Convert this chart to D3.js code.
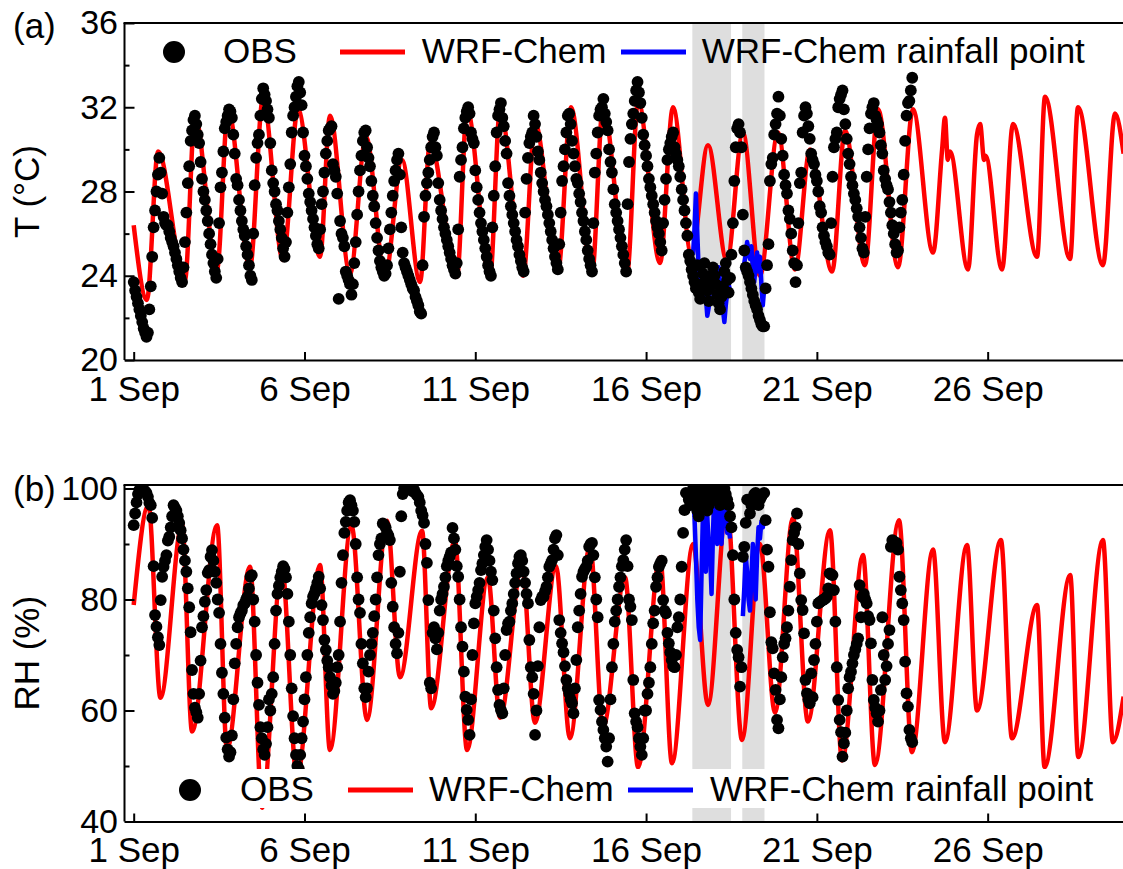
<!DOCTYPE html>
<html><head><meta charset="utf-8">
<script src="https://cdn.jsdelivr.net/npm/d3@7"></script>
<style>
body{margin:0;background:#fff;}
svg text{font-family:"Liberation Sans",Arial,sans-serif;fill:#000;}
</style></head><body>
<svg id="c" width="1123" height="869"></svg>
<script>
// ---------- data (hours since 1 Sep 00:00) ----------
const dayTicks = [1, 6, 11, 16, 21, 26];
const tTicks = [20, 24, 28, 32, 36];
const tMinor = [22, 26, 30, 34];
const rhTicks = [40, 60, 80, 100];
const rhMinor = [50, 70, 90];
const rainBands = [[392.5, 419.7], [427.6, 443.2]];
const legendLabels = ["OBS", "WRF-Chem", "WRF-Chem rainfall point"];

// hourly observed temperature, one row per day (1 Sep ... 23 Sep)
const obsT = [
[23.7,23.3,23.0,22.7,22.4,22.1,21.8,21.5,21.3,21.1,21.3,22.4,23.5,24.9,26.3,27.1,28.0,28.8,29.6,28.9,27.9,26.8,26.5,26.4],
[26.4,26.1,25.8,25.6,25.4,25.1,24.8,24.5,24.2,23.9,23.7,24.4,25.6,27.0,28.4,29.2,30.4,30.9,31.4,31.6,31.2,30.7,30.3,29.4],
[28.6,28.0,27.6,27.1,26.6,26.0,25.5,25.0,24.6,24.2,23.9,24.8,26.5,28.2,28.9,29.9,31.0,31.3,31.6,31.9,31.8,31.5,30.7,29.8],
[28.6,28.3,27.6,27.1,26.6,26.2,25.9,25.4,25.0,24.5,24.0,23.8,26.0,28.3,29.6,30.3,30.7,31.6,32.4,32.9,32.6,32.3,31.9,31.5],
[30.3,29.0,28.4,28.0,27.4,27.1,26.6,26.2,25.8,25.3,24.9,25.6,27.0,28.2,29.3,30.8,31.6,32.0,32.5,33.0,33.2,32.7,32.1,30.8],
[29.7,29.2,28.6,27.9,27.5,27.1,26.7,26.3,25.9,25.5,25.3,26.2,27.4,28.0,28.9,29.8,30.4,30.9,31.0,31.1,29.3,29.0,28.7,27.9],
[22.9,26.6,26.0,25.8,25.4,24.2,24.0,23.8,23.6,23.1,23.6,24.6,25.6,26.9,28.0,29.0,29.7,30.4,30.8,30.9,30.1,29.6,29.2,28.5],
[27.8,27.3,26.5,25.8,25.2,24.7,24.4,24.2,24.0,24.1,24.5,25.3,26.2,27.0,27.8,28.5,29.0,29.5,29.8,28.8,26.3,25.1,24.6,24.4],
[24.2,24.0,23.8,23.6,23.4,23.3,23.0,22.8,22.6,22.3,22.2,24.5,26.8,27.8,28.4,28.9,29.5,30.1,30.6,30.8,30.1,29.7,28.4,27.6],
[27.1,26.7,26.3,26.0,25.7,25.4,25.1,24.8,24.5,24.3,24.1,24.6,26.2,28.7,29.5,30.1,31.0,31.5,31.8,32.0,31.7,30.8,30.5,30.3],
[29.0,28.2,27.6,27.0,26.5,26.1,25.7,25.3,24.9,24.5,24.2,24.0,26.3,27.8,29.2,30.8,31.6,31.9,32.2,31.5,31.1,30.4,29.8,28.4],
[27.8,27.3,26.9,26.5,26.1,25.7,25.4,25.0,24.7,24.4,24.2,27.0,28.6,29.6,30.3,30.6,30.8,31.6,31.2,30.6,29.9,29.5,28.9,28.4],
[28.0,27.6,27.3,26.9,26.5,26.1,25.7,25.3,24.9,24.6,24.3,25.5,27.0,28.5,29.2,30.0,30.8,31.6,31.7,31.2,30.4,29.8,29.2,28.6],
[28.4,27.9,27.5,27.0,26.6,26.1,25.7,25.2,24.8,24.5,24.2,26.5,28.9,29.8,30.8,31.6,31.9,32.0,32.4,31.7,31.3,30.9,30.0,29.4],
[28.9,28.1,27.4,27.0,26.6,26.2,25.8,25.4,25.0,24.6,24.2,27.4,29.4,30.5,31.2,31.7,32.3,32.8,33.2,32.7,32.2,31.5,30.7,30.2],
[29.7,29.2,28.6,28.2,27.8,27.4,27.0,26.6,26.3,26.0,25.6,25.2,26.5,27.6,28.6,29.5,30.0,30.3,30.6,30.8,30.1,29.8,29.5,29.2],
[28.7,28.1,27.6,27.1,26.5,25.9,25.0,24.7,24.3,24.0,23.7,23.4,24.5,23.2,22.9,23.6,24.1,24.6,23.9,23.3,22.8,23.5,24.0,24.4],
[24.0,23.6,23.1,22.7,22.4,23.0,23.5,24.2,24.6,23.8,23.2,23.9,25.0,26.5,28.5,30.1,31.0,31.2,30.8,30.1,26.9,25.2,24.4,24.2],
[24.0,23.7,23.4,23.1,22.8,22.6,22.4,22.1,21.9,21.7,21.6,21.6,23.4,24.5,25.5,28.5,29.3,29.6,30.7,31.2,31.7,32.5,31.6,30.5],
[29.7,28.8,28.3,27.9,27.1,26.7,26.0,25.2,24.6,23.7,24.5,26.5,28.4,28.9,30.8,31.6,32.0,31.7,31.1,30.5,29.8,29.5,29.3,28.8],
[28.5,28.0,27.3,27.0,26.3,25.9,25.6,25.4,25.1,25.0,26.5,28.7,30.1,30.5,30.8,32.0,32.4,32.6,32.8,31.9,31.2,30.5,29.8,29.3],
[28.7,28.3,27.9,27.6,27.2,26.8,26.3,25.8,25.3,25.1,26.8,28.7,30.0,31.0,31.7,32.0,32.2,31.6,31.4,31.2,30.8,30.2,29.8,29.0],
[28.6,28.3,28.1,27.5,27.0,26.4,26.0,25.5,25.1,25.2,26.3,27.0,27.6,28.8,30.4,31.6,32.2,32.3,32.8,33.4]
];

// hourly observed relative humidity, one row per day (1 Sep ... 23 Sep)
const obsRH = [
[93.4,95.5,97.5,99,99.8,100,100,99.8,99.5,99.2,98.5,97.4,97,94.7,86,77.2,75.1,73.2,71.8,79.9,84.1,85.9,87,88],
[90.6,91.3,93,95,97,96.5,96,95,93.8,92.5,91,89,87,85,82,78.6,74.1,67.3,63,60.5,59.7,58.7,63,69],
[75,77,79.6,81.7,84.8,85.3,87.7,88.9,87,85,83,80,77.6,72,66.8,63,58.7,55.1,53,51.7,52.5,55.5,62,68.5],
[72,75,76.8,77.5,78,79,79.3,80,80.5,82,84.1,84.4,80,76,70,65,61,57,55,53,52,54,57,62],
[60,63,66,72,78,81,82.5,84,85,86,85.5,84,81,76,70,64,59,55,52,50,49.5,52,55,58],
[62,66,70,74,76.8,79.3,80.5,81.1,82,83,84.1,82,79,76.3,72.7,70.9,69,67.8,66,64.5,63,63.5,65,67.8],
[70,76,83,88,92,94,96,97.5,97.9,97,96,94,90,84,80,77.6,72,68.5,64,62.4,64,67,70,72],
[74,77,80,84,88,90,91,93.7,93.5,93,92,91.5,90.7,83,78.7,75,72,70.3,74,85,95,99,100,100],
[100,100,100,99.7,99.5,99.8,99.2,98.8,98.5,97.5,96,95.2,93.8,90,86.6,79.9,65,64,74,75,73,71,74,78],
[80,81,82.3,84,86,87,87.7,88.5,92.9,91,89,86,84.1,80,75,71.5,67,62.5,60.1,58.3,55.6,62,70,75.7],
[79.3,80.5,81.7,83,85.3,86.5,88,89.5,90.7,89,87,85,83.5,78,73,67.8,63.7,61,60.1,59.5,64,70,74.5,75.7],
[76,78,79.3,81,83,84.7,86.5,87.7,88,87,85,83,81,79.3,72.7,67.8,66,63,55.6,60,68,75,79.9,80.5],
[80.5,81.5,82.3,84,85.9,86.5,87.1,89,91,91.6,88,76.3,74,72.1,70.5,68,65.5,64,63.1,62,61.3,59.5,64,69.1],
[75,78,81,84.1,85,85.5,85.9,87,89.5,90,90.2,88,84,80,76.8,61.9,60.1,58,56.5,55,53.5,50.8,55,62],
[67.8,72,76,78,80,82.3,84,86,87.1,89,90.7,86,80,78.7,76.3,65.5,59.5,58,57,55,53.5,52,55,60],
[60,63,65,67.8,72,75.7,78,82.3,84,85.9,86.5,87,79.9,78,77.5,74,72.1,70.5,69.1,68,67.8,70,75,76.8],
[80,85.9,92,96.1,99.2,99,98,97,99,100,99.5,98,96,95,97,99,100,99,98,96,97,99,100,99],
[98,99,100,99,97,98,99,100,99,98,97,95,93,88,80,74,70.9,69.6,64.3,67.8,87.7,89.5,93.8,98],
[98,95.5,97,98,99,99.2,98,97,98,98.5,99,99.2,94.3,89,85.9,77.7,72.3,71.2,66.7,63.7,58.3,56.8,62,66],
[69.6,72,73,75,78,82.3,87.1,90.7,92,93,95.5,90,84.7,79.9,78.1,73.9,65.5,63.1,62,61.3,66.7,62.4,69.1,72],
[76,79.3,79.5,79.7,79.9,80,80.2,80.5,82,84.7,84.5,84.4,81.7,76,67.8,61.9,58.3,56.1,51.7,54.1,56,60,64,66],
[67,68.5,70,71,72,73,82.6,76.8,80.5,81,80,79.3,77,76.3,72.1,65.5,61.9,60.5,59.5,58,60,63.7,76.8,70],
[65.5,68,72,74.5,89.5,90.7,90.5,90.2,90.2,89,84.1,81.7,79.3,76.3,68.8,63.1,60.7,56.5,55,54.3]
];

// WRF-Chem temperature: [hour, value] turning points
const wrfT = [
[0,26.4],[9.3,22.85],[17.1,29.9],[36,23.8],[43,31.6],[58.5,24.3],[66.3,31.9],
[81.7,24.4],[90.8,32.4],[104.9,24.75],[115.4,31.9],[130.9,24.9],[137.9,31.6],
[152,24.1],[163.2,30.6],[176.6,24.0],[188.5,29.5],[201.2,23.7],[208.2,30.3],
[227.1,23.95],[234.2,31.9],[250.3,23.9],[257.4,31.9],[273.6,24.0],[282,31.25],
[298.1,24.2],[307.2,32.0],[322,24.1],[329.7,32.0],[346.6,24.1],[354.4,32.3],
[369.8,24.6],[378.9,32.0],[391.9,25.0],[403.5,30.2],[416.8,24.7],[428,30.8],
[440,24.0],[452.7,30.8],[464.6,24.3],[475.2,30.0],[490.7,24.2],[499.8,30.9],
[513.8,24.5],[523,31.9],[537,24.4],[547.5,31.9],
[561.6,25.1],[568,30.0],[570,31.5],[572,29.5],[573.5,29.9],
[586.2,24.3],[592.5,30.7],[594.7,31.2],[597.5,29.5],[598.5,29.7],
[610.1,24.3],[617.8,31.2],[634.7,24.9],[640.3,32.5],[657.9,24.8],[663.5,32.0],
[681,24.5],[689.5,31.7],[695.5,29.8]
];

// WRF-Chem relative humidity: [hour, value]
const wrfRH = [
[0,79],[10.4,97],[18.8,62.3],[34,93.5],[41,56.2],[58.6,93.4],[65.5,53],
[81.7,85.9],[90.2,42.5],[104,86],[114.7,48],[130.9,86.2],[137.9,52.9],
[153,93.4],[163.9,58.3],[178,94.2],[187.1,66],[202.6,92.4],[209,60.4],
[225.7,90.6],[234.2,52.9],[248.9,84],[257.4,58.7],[272.8,86.1],[281.9,57.8],
[296.7,86],[306.5,55],[320.6,89.7],[329.7,57],[345.2,84],[354.4,49.8],
[369.8,87.6],[378.2,50.5],[393,90],[403.5,61],[416.8,97],[427.4,54.7],
[440,90],[450.6,59.6],[463.2,94.7],[473.7,58],[489.2,92.5],[497.7,51],
[512.4,88],[520.8,50.2],[537.7,94.3],[546.8,52.5],[561.6,89],[570,54.3],
[585.5,89.8],[592.5,60],[609.3,90.7],[617.1,55],[634.7,79],[640,49.8],
[658,84.4],[663.7,51.6],[681,90.7],[688,54.3],[695.5,62.5]
];

// WRF-Chem at the rainfall point (two rain windows): [hour, value]
const rainT1 = [[393,25.0],[394,26.2],[395,27.9],[396,26.0],[397,24.2],[398,23.6],[399,24.6],[400,23.8],[401,24.0],[402,23.0],[403,22.1],[404,22.5],[405,23.6],[406,24.5],[407,24.4],[408,23.8],[409,24.3],[410,23.5],[411,24.4],[412,23.6],[413,22.8],[414,22.4],[415,21.8],[416,22.6],[417,23.2],[418,23.6],[419,23.3]];
const rainT2 = [[428,24.2],[429,24.6],[430,25.0],[431,25.6],[432,25.2],[433,24.8],[434,25.4],[435,24.3],[436,23.7],[437,24.5],[438,25.1],[439,24.2],[440,24.9],[441,23.6],[442,22.6],[443,23.4]];
const rainRH1 = [[393,98],[394,95],[395,88],[396,80],[397,75],[398,72.7],[399,85],[400,96],[401,92],[402,85],[403,95],[404,90],[405,88],[406,81],[407,92],[408,99.5],[409,94],[410,90],[411,97],[412,92],[413,90],[414,95],[415,99.5],[416,96],[417,92],[418,93],[419,91]];
const rainRH2 = [[428,77],[429,82],[430,88],[431,85],[432,80],[433,78],[434,84],[435,90],[436,86],[437,80],[438,88],[439,93],[440,91],[441,94],[442,93],[443,95]];

// ---------- drawing ----------
const base = Date.UTC(2019, 8, 1);
const toDate = h => new Date(base + h * 3600000);
const svg = d3.select("#c");
const X0 = 124.5, X1 = 1124.3;
const x = d3.scaleUtc().domain([toDate(-6.46), toDate(696)]).range([X0, X1]);
const FS = 35;

function panel(cfg) {
  const y = d3.scaleLinear().domain(cfg.domain).range([cfg.bottom, cfg.yMaxPx]);
  const g = svg.append("g");
  const clipId = "clip" + cfg.id;
  svg.append("clipPath").attr("id", clipId).append("rect")
    .attr("x", X0).attr("y", cfg.top).attr("width", X1 - X0).attr("height", cfg.bottom - cfg.top);
  const plot = g.append("g").attr("clip-path", `url(#${clipId})`);

  // rain windows
  plot.selectAll("rect.band").data(rainBands).join("rect").attr("class", "band")
    .attr("x", d => x(toDate(d[0]))).attr("width", d => x(toDate(d[1])) - x(toDate(d[0])))
    .attr("y", cfg.top).attr("height", cfg.bottom - cfg.top).attr("fill", "#dedede");

  const line = d3.line().x(d => x(toDate(d[0]))).y(d => y(d[1]));
  plot.append("path").datum(cfg.wrf).attr("fill", "none").attr("stroke", "#ff0000")
    .attr("stroke-width", 4.5).attr("stroke-linejoin", "round")
    .attr("d", line.curve(d3.curveMonotoneX));
  const lineLin = d3.line().x(d => x(toDate(d[0]))).y(d => y(d[1]));
  cfg.rain.forEach(seg => plot.append("path").datum(seg).attr("fill", "none")
    .attr("stroke", "#0000ff").attr("stroke-width", 4.5).attr("stroke-linejoin", "round").attr("d", lineLin));

  const pts = [];
  cfg.obs.forEach((row, di) => row.forEach((v, h) => pts.push([di * 24 + h, v])));
  plot.selectAll("circle.obs").data(pts).join("circle").attr("class", "obs")
    .attr("cx", d => x(toDate(d[0]))).attr("cy", d => y(d[1])).attr("r", 5.9).attr("fill", "#000");

  // legend
  const L = cfg.legend;
  const lg = g.append("g");
  if (L.box) lg.append("rect").attr("x", L.box[0]).attr("y", L.box[1]).attr("width", L.box[2]).attr("height", L.box[3]).attr("fill", "#fff");
  lg.append("circle").attr("cx", L.dot).attr("cy", L.ly).attr("r", 11).attr("fill", "#000");
  lg.append("line").attr("x1", L.red[0]).attr("x2", L.red[1]).attr("y1", L.ly).attr("y2", L.ly).attr("stroke", "#ff0000").attr("stroke-width", 5);
  lg.append("line").attr("x1", L.blue[0]).attr("x2", L.blue[1]).attr("y1", L.ly).attr("y2", L.ly).attr("stroke", "#0000ff").attr("stroke-width", 5);
  legendLabels.forEach((t, i) => lg.append("text").attr("x", L.tx[i]).attr("y", L.tb).attr("font-size", FS).text(t));

  // axes
  const ax = g.append("g").attr("transform", `translate(${X0},0)`)
    .call(d3.axisLeft(y).tickValues(cfg.ticks).tickSizeInner(-10).tickSizeOuter(0).tickPadding(6.5));
  ax.selectAll("text").attr("font-size", 34).attr("font-family", "Liberation Sans, Arial, sans-serif").attr("fill", "#000");
  ax.selectAll("line,path").attr("stroke", "#000").attr("stroke-width", 2);
  ax.select(".domain").attr("d", `M0,${cfg.top}V${cfg.bottom}`);
  const axm = g.append("g").attr("transform", `translate(${X0},0)`)
    .call(d3.axisLeft(y).tickValues(cfg.minor).tickSizeInner(-5).tickSizeOuter(0).tickFormat(""));
  axm.select(".domain").remove();
  axm.selectAll("line").attr("stroke", "#000").attr("stroke-width", 2);

  const bx = g.append("g").attr("transform", `translate(0,${cfg.bottom})`)
    .call(d3.axisBottom(x).tickValues(dayTicks.map(d => toDate((d - 1) * 24)))
      .tickFormat(d3.utcFormat("%-d %b")).tickSizeInner(-8).tickSizeOuter(0).tickPadding(16));
  bx.selectAll("text").attr("font-size", FS).attr("font-family", "Liberation Sans, Arial, sans-serif").attr("fill", "#000");
  bx.selectAll("line,path").attr("stroke", "#000").attr("stroke-width", 2);
  g.append("line").attr("x1", X0 - 1).attr("x2", X1 + 5).attr("y1", cfg.top).attr("y2", cfg.top)
    .attr("stroke", "#000").attr("stroke-width", 2);

  // labels
  g.append("text").attr("x", 13).attr("y", cfg.labelY).attr("font-size", FS).text(cfg.label);
  g.append("text").attr("transform", `translate(39,${(cfg.top + cfg.bottom) / 2}) rotate(-90)`)
    .attr("text-anchor", "middle").attr("font-size", FS).text(cfg.title);
}

panel({
  id: "a", top: 23, bottom: 360, yMaxPx: 23, domain: [20, 36], ticks: tTicks, minor: tMinor,
  obs: obsT, wrf: wrfT, rain: [rainT1, rainT2], label: "(a)", labelY: 38, title: "T (°C)",
  legend: { ly: 52, tb: 63, dot: 174, red: [340, 405], blue: [621, 686], tx: [223, 421.7, 701.7] }
});
panel({
  id: "b", top: 485, bottom: 821.5, yMaxPx: 488.5, domain: [40, 100], ticks: rhTicks, minor: rhMinor,
  obs: obsRH, wrf: wrfRH, rain: [rainRH1, rainRH2], label: "(b)", labelY: 501, title: "RH (%)",
  legend: { box: [150, 769, 950, 39], ly: 790, tb: 801, dot: 190, red: [348, 413], blue: [628, 693], tx: [240, 429, 710] }
});
</script></body></html>
